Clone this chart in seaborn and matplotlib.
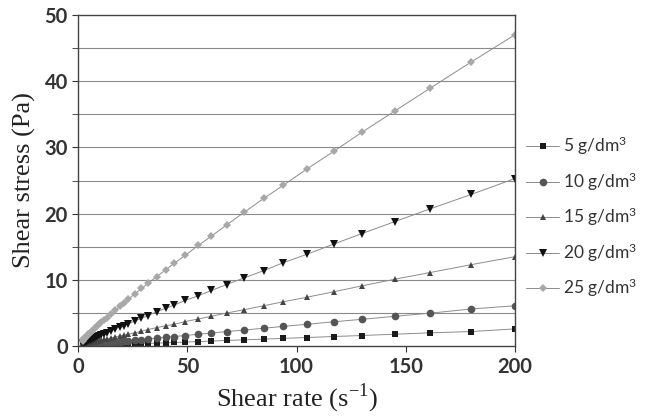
import numpy as np
import pandas as pd
import seaborn as sns
import matplotlib.pyplot as plt

# shear rate (1/s), same grid for every concentration
shear_rate = [200, 180, 161, 145, 130, 117, 105, 94, 85, 76, 68, 61, 55, 49, 44, 40,
              36, 32, 29, 26, 23, 21, 19, 17, 15, 13, 12, 10.5, 9.5, 8.5, 7.5, 6.7,
              6, 5.3, 4.7, 4.2, 3.7, 3.3, 2.9, 2.6, 2.3, 2.0]

stress_5 = [2.6, 2.2, 2.0, 1.8, 1.6, 1.45, 1.3, 1.17, 1.06, 0.95, 0.85, 0.76, 0.69, 0.61,
            0.55, 0.5, 0.45, 0.4, 0.36, 0.33, 0.29, 0.26, 0.24, 0.21, 0.19, 0.16, 0.15,
            0.13, 0.12, 0.11, 0.09, 0.08, 0.075, 0.066, 0.059, 0.053, 0.046, 0.041,
            0.036, 0.033, 0.029, 0.025]
stress_10 = [6.1, 5.6, 4.97, 4.5, 4.05, 3.67, 3.3, 2.98, 2.7, 2.43, 2.19, 1.98, 1.79, 1.6,
             1.45, 1.32, 1.2, 1.07, 0.97, 0.88, 0.78, 0.72, 0.65, 0.59, 0.52, 0.45, 0.42,
             0.37, 0.34, 0.30, 0.27, 0.24, 0.22, 0.19, 0.17, 0.155, 0.14, 0.12, 0.11,
             0.10, 0.087, 0.076]
stress_15 = [13.5, 12.3, 11.1, 10.1, 9.1, 8.2, 7.4, 6.7, 6.1, 5.5, 5.0, 4.5, 4.1, 3.7, 3.3,
             3.05, 2.8, 2.5, 2.25, 2.0, 1.8, 1.66, 1.55, 1.39, 1.23, 1.07, 1.0, 0.88, 0.80,
             0.73, 0.64, 0.58, 0.52, 0.47, 0.42, 0.38, 0.34, 0.30, 0.27, 0.24, 0.21, 0.19]
stress_20 = [25.3, 22.9, 20.7, 18.8, 17.0, 15.4, 13.9, 12.6, 11.4, 10.3, 9.3, 8.4, 7.6, 6.9,
             6.2, 5.7, 5.2, 4.6, 4.2, 3.8, 3.4, 3.1, 2.9, 2.6, 2.3, 2.0, 1.9, 1.65, 1.5,
             1.36, 1.2, 1.09, 0.98, 0.88, 0.78, 0.71, 0.63, 0.57, 0.50, 0.45, 0.40, 0.36]
stress_25 = [47.0, 42.9, 38.9, 35.5, 32.3, 29.4, 26.8, 24.3, 22.3, 20.2, 18.3, 16.6, 15.2,
             13.7, 12.5, 11.5, 10.5, 9.5, 8.7, 7.9, 7.1, 6.5, 6.0, 5.4, 4.9, 4.3, 4.0, 3.6,
             3.3, 3.0, 2.7, 2.4, 2.2, 2.0, 1.8, 1.6, 1.4, 1.3, 1.2, 1.05, 0.94, 0.84]

labels = ["5 g/dm$^3$", "10 g/dm$^3$", "15 g/dm$^3$", "20 g/dm$^3$", "25 g/dm$^3$"]
series = [stress_5, stress_10, stress_15, stress_20, stress_25]
markers = ["s", "o", "^", "v", "D"]
colors = ["#1a1a1a", "#555555", "#444444", "#111111", "#a8a8a8"]
msizes = [5, 5.5, 5, 6, 4]

sns.set_style("ticks")
plt.rcParams['font.family'] = ['Liberation Serif', 'DejaVu Serif']
plt.rcParams['mathtext.fontset'] = 'custom'
plt.rcParams['mathtext.rm'] = 'Lato'
plt.rcParams['mathtext.it'] = 'Lato'

fig = plt.figure(figsize=(6.46, 4.16), dpi=100)
ax = fig.add_axes([0.121, 0.168, 0.676, 0.796])

for y in range(5, 50, 5):
    ax.axhline(y, color="#8a8a8a", lw=0.8, zorder=0)

for lab, ys, m, c, ms in zip(labels, series, markers, colors, msizes):
    df = pd.DataFrame({"rate": shear_rate, "stress": ys})
    sns.lineplot(data=df, x="rate", y="stress", ax=ax, marker=m, color="#8c8c8c",
                 markerfacecolor=c, markeredgecolor=c, markersize=ms,
                 markeredgewidth=0, lw=0.7, label=lab, sort=True)

ax.set_xlim(0, 200)
ax.set_ylim(0, 50)
ax.set_xticks([0, 50, 100, 150, 200])
ax.set_yticks([0, 10, 20, 30, 40, 50])
ax.set_yticks([5, 15, 25, 35, 45], minor=True)
ax.tick_params(axis="both", which="major", labelsize=14.5, labelcolor="#333333",
               color="#333333", length=4)
ax.tick_params(axis="y", which="minor", length=4, color="#333333")
for t in ax.get_xticklabels() + ax.get_yticklabels():
    t.set_family("Lato")
    t.set_weight("bold")
for s in ax.spines.values():
    s.set_color("#444444")
    s.set_linewidth(1.0)

ax.set_xlabel("Shear rate (s$^{\\mathregular{-1}}$)", fontsize=19, color="#222222")
ax.set_ylabel("Shear stress (Pa)", fontsize=19, color="#222222", labelpad=6)

leg = ax.legend(loc="center left", bbox_to_anchor=(1.01, 0.39), frameon=False,
                fontsize=12.5, handlelength=1.9, handletextpad=0.25, labelspacing=0.75,
                borderaxespad=0)
for t in leg.get_texts():
    t.set_family("Lato")
    t.set_color("#333333")

fig.savefig("out.png", dpi=100)
